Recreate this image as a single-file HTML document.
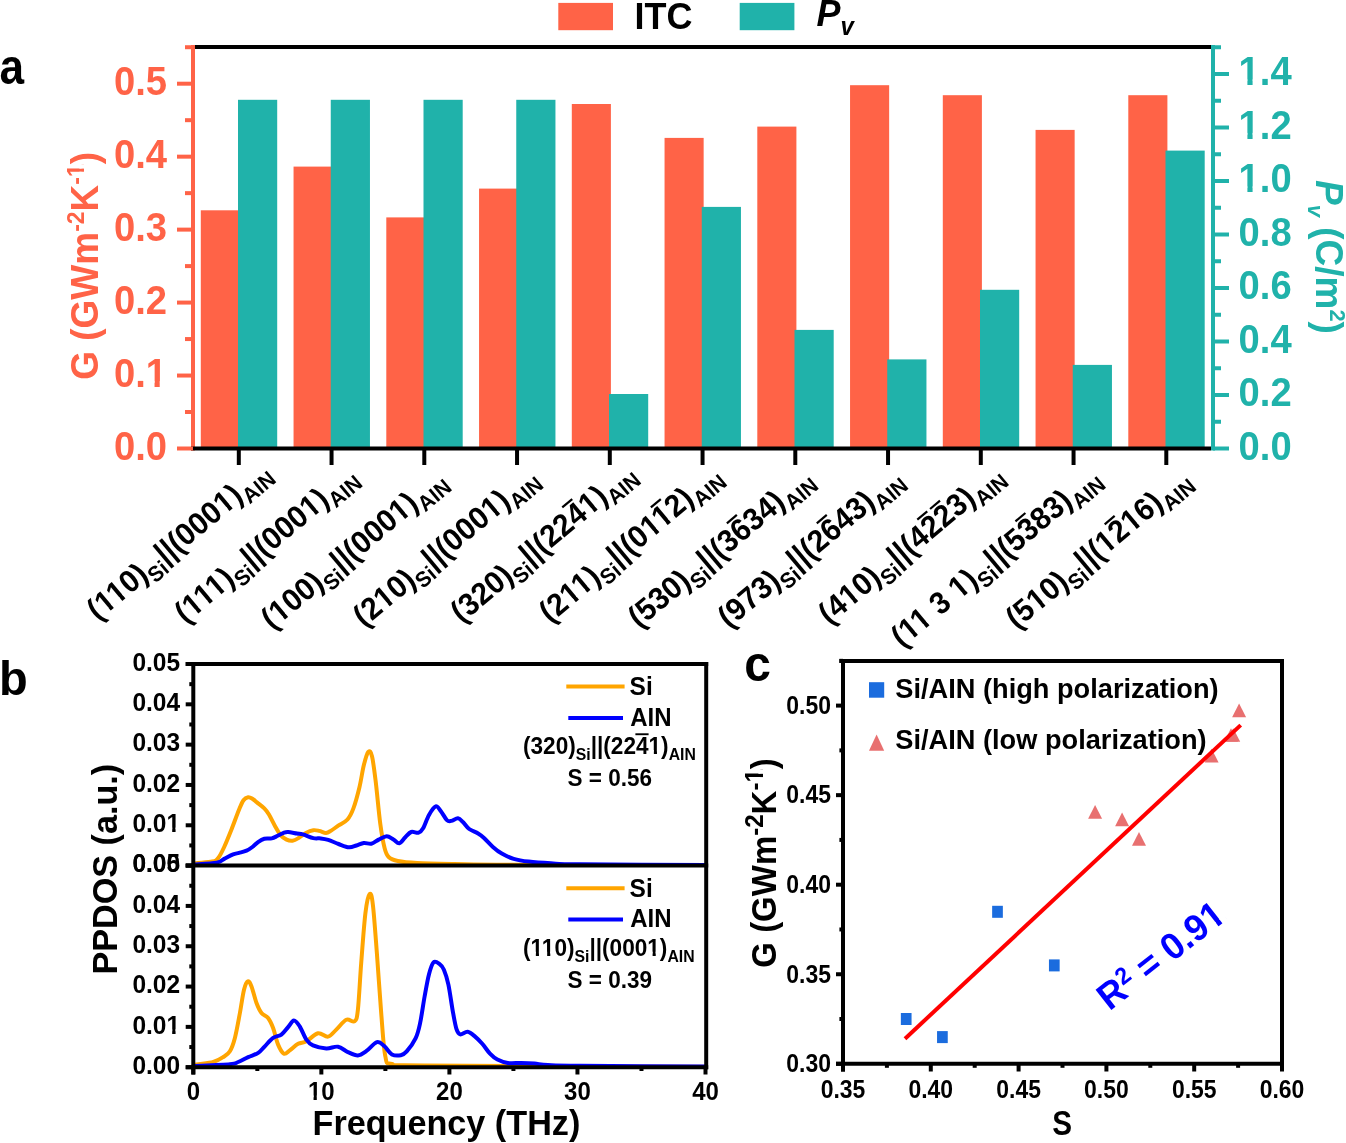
<!DOCTYPE html>
<html><head><meta charset="utf-8"><style>
html,body{margin:0;padding:0;background:#fff;overflow:hidden;}
svg{display:block;will-change:transform;}
</style></head><body>
<svg width="1346" height="1143" viewBox="0 0 1346 1143">
<rect width="1346" height="1143" fill="#fff"/>
<g transform="translate(-0.60,84.20) scale(0.8846,1)"><text id="t0" font-size="49.92" font-weight="bold" font-family="'Liberation Sans', sans-serif">a</text></g>
<rect x="558.3" y="2.9" width="54.7" height="27.3" fill="#FF6347"/>
<g transform="translate(634.60,28.80) scale(0.9615,1)"><text id="t1" font-size="37.44" font-weight="bold" font-family="'Liberation Sans', sans-serif">ITC</text></g>
<rect x="739.7" y="2.9" width="54.7" height="27.3" fill="#20B2AA"/>
<g transform="translate(816.50,25.70) scale(0.9615,1)"><text id="t2" font-size="37.44" font-weight="bold" font-style="italic" font-family="'Liberation Sans', sans-serif">P</text></g>
<g transform="translate(840.50,34.80) scale(0.9615,1)"><text id="t3" font-size="24.96" font-weight="bold" font-style="italic" font-family="'Liberation Sans', sans-serif">v</text></g>
<rect x="200.80" y="210.3" width="39.1" height="238.20" fill="#FF6347"/>
<rect x="238.00" y="99.8" width="39.2" height="348.70" fill="#20B2AA"/>
<line x1="238.80" y1="448.50" x2="238.80" y2="465.00" stroke="#000" stroke-width="4"/>
<rect x="293.55" y="166.6" width="39.1" height="281.90" fill="#FF6347"/>
<rect x="330.75" y="99.8" width="39.2" height="348.70" fill="#20B2AA"/>
<line x1="331.55" y1="448.50" x2="331.55" y2="465.00" stroke="#000" stroke-width="4"/>
<rect x="386.30" y="217.4" width="39.1" height="231.10" fill="#FF6347"/>
<rect x="423.50" y="99.8" width="39.2" height="348.70" fill="#20B2AA"/>
<line x1="424.30" y1="448.50" x2="424.30" y2="465.00" stroke="#000" stroke-width="4"/>
<rect x="479.05" y="188.6" width="39.1" height="259.90" fill="#FF6347"/>
<rect x="516.25" y="99.8" width="39.2" height="348.70" fill="#20B2AA"/>
<line x1="517.05" y1="448.50" x2="517.05" y2="465.00" stroke="#000" stroke-width="4"/>
<rect x="571.80" y="104" width="39.1" height="344.50" fill="#FF6347"/>
<rect x="609.00" y="394" width="39.2" height="54.50" fill="#20B2AA"/>
<line x1="609.80" y1="448.50" x2="609.80" y2="465.00" stroke="#000" stroke-width="4"/>
<rect x="664.55" y="137.9" width="39.1" height="310.60" fill="#FF6347"/>
<rect x="701.75" y="206.9" width="39.2" height="241.60" fill="#20B2AA"/>
<line x1="702.55" y1="448.50" x2="702.55" y2="465.00" stroke="#000" stroke-width="4"/>
<rect x="757.30" y="126.6" width="39.1" height="321.90" fill="#FF6347"/>
<rect x="794.50" y="329.9" width="39.2" height="118.60" fill="#20B2AA"/>
<line x1="795.30" y1="448.50" x2="795.30" y2="465.00" stroke="#000" stroke-width="4"/>
<rect x="850.05" y="85.2" width="39.1" height="363.30" fill="#FF6347"/>
<rect x="887.25" y="359.4" width="39.2" height="89.10" fill="#20B2AA"/>
<line x1="888.05" y1="448.50" x2="888.05" y2="465.00" stroke="#000" stroke-width="4"/>
<rect x="942.80" y="95.2" width="39.1" height="353.30" fill="#FF6347"/>
<rect x="980.00" y="289.8" width="39.2" height="158.70" fill="#20B2AA"/>
<line x1="980.80" y1="448.50" x2="980.80" y2="465.00" stroke="#000" stroke-width="4"/>
<rect x="1035.55" y="129.9" width="39.1" height="318.60" fill="#FF6347"/>
<rect x="1072.75" y="364.9" width="39.2" height="83.60" fill="#20B2AA"/>
<line x1="1073.55" y1="448.50" x2="1073.55" y2="465.00" stroke="#000" stroke-width="4"/>
<rect x="1128.30" y="95.2" width="39.1" height="353.30" fill="#FF6347"/>
<rect x="1165.50" y="150.6" width="39.2" height="297.90" fill="#20B2AA"/>
<line x1="1166.30" y1="448.50" x2="1166.30" y2="465.00" stroke="#000" stroke-width="4"/>
<line x1="193.00" y1="47.00" x2="1213.00" y2="47.00" stroke="#000" stroke-width="4"/>
<line x1="193.00" y1="45.00" x2="193.00" y2="450.50" stroke="#FF6347" stroke-width="4"/>
<line x1="191.00" y1="448.50" x2="1211.00" y2="448.50" stroke="#000" stroke-width="4"/>
<line x1="1213.00" y1="45.00" x2="1213.00" y2="450.50" stroke="#20B2AA" stroke-width="4"/>
<line x1="177.00" y1="448.50" x2="193.00" y2="448.50" stroke="#FF6347" stroke-width="4"/>
<g transform="translate(167.00,460.00) scale(0.9615,1)"><text id="t4" font-size="39.73" font-weight="bold" text-anchor="end" fill="#FF6347" font-family="'Liberation Sans', sans-serif">0.0</text></g>
<line x1="185.00" y1="412.02" x2="193.00" y2="412.02" stroke="#FF6347" stroke-width="4"/>
<line x1="177.00" y1="375.54" x2="193.00" y2="375.54" stroke="#FF6347" stroke-width="4"/>
<g transform="translate(167.00,387.04) scale(0.9615,1)"><text id="t5" font-size="39.73" font-weight="bold" text-anchor="end" fill="#FF6347" font-family="'Liberation Sans', sans-serif">0.1</text><rect x="-20.78" y="-5.90" width="7.82" height="7.40" fill="#fff"/><rect x="-7.58" y="-5.90" width="7.01" height="7.40" fill="#fff"/></g>
<line x1="185.00" y1="339.06" x2="193.00" y2="339.06" stroke="#FF6347" stroke-width="4"/>
<line x1="177.00" y1="302.58" x2="193.00" y2="302.58" stroke="#FF6347" stroke-width="4"/>
<g transform="translate(167.00,314.08) scale(0.9615,1)"><text id="t6" font-size="39.73" font-weight="bold" text-anchor="end" fill="#FF6347" font-family="'Liberation Sans', sans-serif">0.2</text></g>
<line x1="185.00" y1="266.10" x2="193.00" y2="266.10" stroke="#FF6347" stroke-width="4"/>
<line x1="177.00" y1="229.62" x2="193.00" y2="229.62" stroke="#FF6347" stroke-width="4"/>
<g transform="translate(167.00,241.12) scale(0.9615,1)"><text id="t7" font-size="39.73" font-weight="bold" text-anchor="end" fill="#FF6347" font-family="'Liberation Sans', sans-serif">0.3</text></g>
<line x1="185.00" y1="193.14" x2="193.00" y2="193.14" stroke="#FF6347" stroke-width="4"/>
<line x1="177.00" y1="156.66" x2="193.00" y2="156.66" stroke="#FF6347" stroke-width="4"/>
<g transform="translate(167.00,168.16) scale(0.9615,1)"><text id="t8" font-size="39.73" font-weight="bold" text-anchor="end" fill="#FF6347" font-family="'Liberation Sans', sans-serif">0.4</text></g>
<line x1="185.00" y1="120.18" x2="193.00" y2="120.18" stroke="#FF6347" stroke-width="4"/>
<line x1="177.00" y1="83.70" x2="193.00" y2="83.70" stroke="#FF6347" stroke-width="4"/>
<g transform="translate(167.00,95.20) scale(0.9615,1)"><text id="t9" font-size="39.73" font-weight="bold" text-anchor="end" fill="#FF6347" font-family="'Liberation Sans', sans-serif">0.5</text></g>
<line x1="185.00" y1="47.22" x2="193.00" y2="47.22" stroke="#FF6347" stroke-width="4"/>
<line x1="1213.00" y1="448.50" x2="1229.00" y2="448.50" stroke="#20B2AA" stroke-width="4"/>
<g transform="translate(1238.60,459.80) scale(0.9615,1)"><text id="t10" font-size="39.73" font-weight="bold" fill="#20B2AA" font-family="'Liberation Sans', sans-serif">0.0</text></g>
<line x1="1213.00" y1="421.75" x2="1221.00" y2="421.75" stroke="#20B2AA" stroke-width="4"/>
<line x1="1213.00" y1="395.00" x2="1229.00" y2="395.00" stroke="#20B2AA" stroke-width="4"/>
<g transform="translate(1238.60,406.30) scale(0.9615,1)"><text id="t11" font-size="39.73" font-weight="bold" fill="#20B2AA" font-family="'Liberation Sans', sans-serif">0.2</text></g>
<line x1="1213.00" y1="368.25" x2="1221.00" y2="368.25" stroke="#20B2AA" stroke-width="4"/>
<line x1="1213.00" y1="341.50" x2="1229.00" y2="341.50" stroke="#20B2AA" stroke-width="4"/>
<g transform="translate(1238.60,352.80) scale(0.9615,1)"><text id="t12" font-size="39.73" font-weight="bold" fill="#20B2AA" font-family="'Liberation Sans', sans-serif">0.4</text></g>
<line x1="1213.00" y1="314.75" x2="1221.00" y2="314.75" stroke="#20B2AA" stroke-width="4"/>
<line x1="1213.00" y1="288.00" x2="1229.00" y2="288.00" stroke="#20B2AA" stroke-width="4"/>
<g transform="translate(1238.60,299.30) scale(0.9615,1)"><text id="t13" font-size="39.73" font-weight="bold" fill="#20B2AA" font-family="'Liberation Sans', sans-serif">0.6</text></g>
<line x1="1213.00" y1="261.25" x2="1221.00" y2="261.25" stroke="#20B2AA" stroke-width="4"/>
<line x1="1213.00" y1="234.50" x2="1229.00" y2="234.50" stroke="#20B2AA" stroke-width="4"/>
<g transform="translate(1238.60,245.80) scale(0.9615,1)"><text id="t14" font-size="39.73" font-weight="bold" fill="#20B2AA" font-family="'Liberation Sans', sans-serif">0.8</text></g>
<line x1="1213.00" y1="207.75" x2="1221.00" y2="207.75" stroke="#20B2AA" stroke-width="4"/>
<line x1="1213.00" y1="181.00" x2="1229.00" y2="181.00" stroke="#20B2AA" stroke-width="4"/>
<g transform="translate(1238.60,192.30) scale(0.9615,1)"><text id="t15" font-size="39.73" font-weight="bold" fill="#20B2AA" font-family="'Liberation Sans', sans-serif">1.0</text><rect x="1.34" y="-5.90" width="7.82" height="7.40" fill="#fff"/><rect x="14.54" y="-5.90" width="7.01" height="7.40" fill="#fff"/></g>
<line x1="1213.00" y1="154.25" x2="1221.00" y2="154.25" stroke="#20B2AA" stroke-width="4"/>
<line x1="1213.00" y1="127.50" x2="1229.00" y2="127.50" stroke="#20B2AA" stroke-width="4"/>
<g transform="translate(1238.60,138.80) scale(0.9615,1)"><text id="t16" font-size="39.73" font-weight="bold" fill="#20B2AA" font-family="'Liberation Sans', sans-serif">1.2</text><rect x="1.34" y="-5.90" width="7.82" height="7.40" fill="#fff"/><rect x="14.54" y="-5.90" width="7.01" height="7.40" fill="#fff"/></g>
<line x1="1213.00" y1="100.75" x2="1221.00" y2="100.75" stroke="#20B2AA" stroke-width="4"/>
<line x1="1213.00" y1="74.00" x2="1229.00" y2="74.00" stroke="#20B2AA" stroke-width="4"/>
<g transform="translate(1238.60,85.30) scale(0.9615,1)"><text id="t17" font-size="39.73" font-weight="bold" fill="#20B2AA" font-family="'Liberation Sans', sans-serif">1.4</text><rect x="1.34" y="-5.90" width="7.82" height="7.40" fill="#fff"/><rect x="14.54" y="-5.90" width="7.01" height="7.40" fill="#fff"/></g>
<line x1="1213.00" y1="47.25" x2="1221.00" y2="47.25" stroke="#20B2AA" stroke-width="4"/>
<g transform="translate(97.70,379.80) rotate(-90) scale(0.9615,1)"><text id="t18" font-size="38.48" font-weight="bold" fill="#FF6347" font-family="'Liberation Sans', sans-serif">G (GWm<tspan font-size="23.92" dy="-14">-2</tspan><tspan dy="14">K</tspan><tspan font-size="23.92" dy="-14">-1</tspan><tspan dy="14">)</tspan></text><rect x="211.67" y="-18.32" width="4.73" height="5.82" fill="#fff"/><rect x="219.66" y="-18.32" width="4.24" height="5.82" fill="#fff"/></g>
<g transform="translate(1316.00,180.00) rotate(90) scale(0.9615,1)"><text id="t19" font-size="38.48" font-weight="bold" fill="#20B2AA" font-family="'Liberation Sans', sans-serif"><tspan font-style="italic">P</tspan><tspan font-size="22.88" font-style="italic" dy="8">v</tspan><tspan dy="-8"> (C/m</tspan><tspan font-size="22.88" dy="-14">2</tspan><tspan dy="14">)</tspan></text></g>
<g transform="translate(97.80,621.50) rotate(-40)"><g transform="translate(0.00,0.00) scale(0.9615,1)"><text id="t20" font-size="31.20" font-weight="bold" font-family="'Liberation Sans', sans-serif">(110)<tspan font-size="21.84" dy="8">Si</tspan><tspan dy="-8">||(0001)</tspan><tspan font-size="21.84" dy="8">AIN</tspan></text><rect x="11.45" y="-5.07" width="6.18" height="6.57" fill="#fff"/><rect x="21.88" y="-5.07" width="5.54" height="6.57" fill="#fff"/><rect x="27.06" y="-5.07" width="6.18" height="6.57" fill="#fff"/><rect x="37.49" y="-5.07" width="5.54" height="6.57" fill="#fff"/><rect x="172.64" y="-5.07" width="6.18" height="6.57" fill="#fff"/><rect x="183.08" y="-5.07" width="5.54" height="6.57" fill="#fff"/></g></g>
<g transform="translate(185.40,624.40) rotate(-40)"><g transform="translate(0.00,0.00) scale(0.9615,1)"><text id="t21" font-size="31.20" font-weight="bold" font-family="'Liberation Sans', sans-serif">(111)<tspan font-size="21.84" dy="8">Si</tspan><tspan dy="-8">||(0001)</tspan><tspan font-size="21.84" dy="8">AIN</tspan></text><rect x="11.45" y="-5.07" width="6.18" height="6.57" fill="#fff"/><rect x="21.88" y="-5.07" width="5.54" height="6.57" fill="#fff"/><rect x="27.06" y="-5.07" width="6.18" height="6.57" fill="#fff"/><rect x="37.49" y="-5.07" width="5.54" height="6.57" fill="#fff"/><rect x="42.68" y="-5.07" width="6.18" height="6.57" fill="#fff"/><rect x="53.12" y="-5.07" width="5.54" height="6.57" fill="#fff"/><rect x="170.92" y="-5.07" width="6.18" height="6.57" fill="#fff"/><rect x="181.36" y="-5.07" width="5.54" height="6.57" fill="#fff"/></g></g>
<g transform="translate(272.10,630.50) rotate(-40)"><g transform="translate(0.00,0.00) scale(0.9615,1)"><text id="t22" font-size="31.20" font-weight="bold" font-family="'Liberation Sans', sans-serif">(100)<tspan font-size="21.84" dy="8">Si</tspan><tspan dy="-8">||(0001)</tspan><tspan font-size="21.84" dy="8">AIN</tspan></text><rect x="11.45" y="-5.07" width="6.18" height="6.57" fill="#fff"/><rect x="21.88" y="-5.07" width="5.54" height="6.57" fill="#fff"/><rect x="174.36" y="-5.07" width="6.18" height="6.57" fill="#fff"/><rect x="184.80" y="-5.07" width="5.54" height="6.57" fill="#fff"/></g></g>
<g transform="translate(364.00,628.00) rotate(-40)"><g transform="translate(0.00,0.00) scale(0.9615,1)"><text id="t23" font-size="31.20" font-weight="bold" font-family="'Liberation Sans', sans-serif">(210)<tspan font-size="21.84" dy="8">Si</tspan><tspan dy="-8">||(0001)</tspan><tspan font-size="21.84" dy="8">AIN</tspan></text><rect x="28.78" y="-5.07" width="6.18" height="6.57" fill="#fff"/><rect x="39.21" y="-5.07" width="5.54" height="6.57" fill="#fff"/><rect x="174.36" y="-5.07" width="6.18" height="6.57" fill="#fff"/><rect x="184.80" y="-5.07" width="5.54" height="6.57" fill="#fff"/></g></g>
<g transform="translate(461.50,623.80) rotate(-40)"><g transform="translate(0.00,0.00) scale(0.9615,1)"><text id="t24" font-size="31.20" font-weight="bold" font-family="'Liberation Sans', sans-serif">(320)<tspan font-size="21.84" dy="8">Si</tspan><tspan dy="-8">||(2241)</tspan><tspan font-size="21.84" dy="8">AIN</tspan></text><rect x="174.36" y="-5.07" width="6.18" height="6.57" fill="#fff"/><rect x="184.80" y="-5.07" width="5.54" height="6.57" fill="#fff"/></g><rect x="152.01" y="-25.50" width="13.00" height="2.2" fill="#000"/></g>
<g transform="translate(550.10,623.80) rotate(-40)"><g transform="translate(0.00,0.00) scale(0.9615,1)"><text id="t25" font-size="31.20" font-weight="bold" font-family="'Liberation Sans', sans-serif">(211)<tspan font-size="21.84" dy="8">Si</tspan><tspan dy="-8">||(0112)</tspan><tspan font-size="21.84" dy="8">AIN</tspan></text><rect x="28.78" y="-5.07" width="6.18" height="6.57" fill="#fff"/><rect x="39.21" y="-5.07" width="5.54" height="6.57" fill="#fff"/><rect x="44.40" y="-5.07" width="6.18" height="6.57" fill="#fff"/><rect x="54.84" y="-5.07" width="5.54" height="6.57" fill="#fff"/><rect x="137.95" y="-5.07" width="6.18" height="6.57" fill="#fff"/><rect x="148.39" y="-5.07" width="5.54" height="6.57" fill="#fff"/><rect x="153.58" y="-5.07" width="6.18" height="6.57" fill="#fff"/><rect x="164.01" y="-5.07" width="5.54" height="6.57" fill="#fff"/></g><rect x="152.01" y="-25.50" width="13.00" height="2.2" fill="#000"/></g>
<g transform="translate(638.90,629.00) rotate(-40)"><g transform="translate(0.00,0.00) scale(0.9615,1)"><text id="t26" font-size="31.20" font-weight="bold" font-family="'Liberation Sans', sans-serif">(530)<tspan font-size="21.84" dy="8">Si</tspan><tspan dy="-8">||(3634)</tspan><tspan font-size="21.84" dy="8">AIN</tspan></text></g><rect x="135.34" y="-25.50" width="13.00" height="2.2" fill="#000"/></g>
<g transform="translate(728.80,629.00) rotate(-40)"><g transform="translate(0.00,0.00) scale(0.9615,1)"><text id="t27" font-size="31.20" font-weight="bold" font-family="'Liberation Sans', sans-serif">(973)<tspan font-size="21.84" dy="8">Si</tspan><tspan dy="-8">||(2643)</tspan><tspan font-size="21.84" dy="8">AIN</tspan></text></g><rect x="135.34" y="-25.50" width="13.00" height="2.2" fill="#000"/></g>
<g transform="translate(829.30,625.40) rotate(-40)"><g transform="translate(0.00,0.00) scale(0.9615,1)"><text id="t28" font-size="31.20" font-weight="bold" font-family="'Liberation Sans', sans-serif">(410)<tspan font-size="21.84" dy="8">Si</tspan><tspan dy="-8">||(4223)</tspan><tspan font-size="21.84" dy="8">AIN</tspan></text><rect x="28.78" y="-5.07" width="6.18" height="6.57" fill="#fff"/><rect x="39.21" y="-5.07" width="5.54" height="6.57" fill="#fff"/></g><rect x="135.34" y="-25.50" width="13.00" height="2.2" fill="#000"/><rect x="152.01" y="-25.50" width="13.00" height="2.2" fill="#000"/></g>
<g transform="translate(901.90,648.50) rotate(-40)"><g transform="translate(0.00,0.00) scale(0.9615,1)"><text id="t29" font-size="31.20" font-weight="bold" font-family="'Liberation Sans', sans-serif">(11 3 1)<tspan font-size="21.84" dy="8">Si</tspan><tspan dy="-8">||(5383)</tspan><tspan font-size="21.84" dy="8">AIN</tspan></text><rect x="11.45" y="-5.07" width="6.18" height="6.57" fill="#fff"/><rect x="21.88" y="-5.07" width="5.54" height="6.57" fill="#fff"/><rect x="27.06" y="-5.07" width="6.18" height="6.57" fill="#fff"/><rect x="37.49" y="-5.07" width="5.54" height="6.57" fill="#fff"/><rect x="79.08" y="-5.07" width="6.18" height="6.57" fill="#fff"/><rect x="89.52" y="-5.07" width="5.54" height="6.57" fill="#fff"/></g><rect x="168.70" y="-25.50" width="13.00" height="2.2" fill="#000"/></g>
<g transform="translate(1016.70,630.00) rotate(-40)"><g transform="translate(0.00,0.00) scale(0.9615,1)"><text id="t30" font-size="31.20" font-weight="bold" font-family="'Liberation Sans', sans-serif">(510)<tspan font-size="21.84" dy="8">Si</tspan><tspan dy="-8">||(1216)</tspan><tspan font-size="21.84" dy="8">AIN</tspan></text><rect x="28.78" y="-5.07" width="6.18" height="6.57" fill="#fff"/><rect x="39.21" y="-5.07" width="5.54" height="6.57" fill="#fff"/><rect x="122.32" y="-5.07" width="6.18" height="6.57" fill="#fff"/><rect x="132.76" y="-5.07" width="5.54" height="6.57" fill="#fff"/><rect x="157.02" y="-5.07" width="6.18" height="6.57" fill="#fff"/><rect x="167.46" y="-5.07" width="5.54" height="6.57" fill="#fff"/></g><rect x="135.34" y="-25.50" width="13.00" height="2.2" fill="#000"/></g>
<g transform="translate(-1.00,694.70) scale(0.9615,1)"><text id="t31" font-size="48.88" font-weight="bold" font-family="'Liberation Sans', sans-serif">b</text></g>
<path d="M193.40,864.50 C193.82,864.30 192.75,863.80 195.90,863.30 C199.05,862.80 208.58,862.37 212.30,861.50 C216.02,860.63 216.22,860.52 218.20,858.10 C220.18,855.68 221.97,851.82 224.20,847.00 C226.43,842.18 229.13,835.40 231.60,829.20 C234.07,823.00 237.02,814.63 239.00,809.80 C240.98,804.97 241.97,802.30 243.50,800.20 C245.03,798.10 246.72,797.45 248.20,797.20 C249.68,796.95 250.95,797.83 252.40,798.70 C253.85,799.57 254.92,800.78 256.90,802.40 C258.88,804.02 262.32,806.42 264.30,808.40 C266.28,810.38 267.07,811.47 268.80,814.30 C270.53,817.13 272.73,821.93 274.70,825.40 C276.67,828.87 278.62,832.73 280.60,835.10 C282.58,837.47 284.62,838.67 286.60,839.60 C288.58,840.53 290.52,840.95 292.50,840.70 C294.48,840.45 296.27,839.40 298.50,838.10 C300.73,836.80 303.43,834.22 305.90,832.90 C308.37,831.58 311.07,830.53 313.30,830.20 C315.53,829.87 317.18,830.45 319.30,830.90 C321.42,831.35 324.02,832.95 326.00,832.90 C327.98,832.85 329.10,831.85 331.20,830.60 C333.30,829.35 335.88,827.25 338.60,825.40 C341.32,823.55 345.03,822.33 347.50,819.50 C349.97,816.67 351.42,813.73 353.40,808.40 C355.38,803.07 357.67,794.68 359.40,787.50 C361.13,780.32 362.32,771.23 363.80,765.30 C365.28,759.37 366.93,753.40 368.30,751.90 C369.67,750.40 370.77,751.35 372.00,756.30 C373.23,761.25 374.33,770.45 375.70,781.60 C377.07,792.75 378.70,812.05 380.20,823.20 C381.70,834.35 383.25,842.82 384.70,848.50 C386.15,854.18 386.72,855.22 388.90,857.30 C391.08,859.38 393.10,860.05 397.80,861.00 C402.50,861.95 407.68,862.50 417.10,863.00 C426.52,863.50 438.20,863.70 454.30,864.00 C470.40,864.30 471.75,864.63 513.70,864.80 C555.65,864.97 673.95,864.97 706.00,865.00" fill="none" stroke="#FFA500" stroke-width="4" stroke-linejoin="round" stroke-linecap="round"/>
<path d="M193.40,864.50 C197.28,864.18 211.57,863.53 216.70,862.60 C221.83,861.67 221.47,860.27 224.20,858.90 C226.93,857.53 230.63,855.40 233.10,854.40 C235.57,853.40 236.77,853.52 239.00,852.90 C241.23,852.28 244.27,851.68 246.50,850.70 C248.73,849.72 250.42,848.48 252.40,847.00 C254.38,845.52 256.42,843.17 258.40,841.80 C260.38,840.43 262.08,839.37 264.30,838.80 C266.52,838.23 269.47,838.90 271.70,838.40 C273.93,837.90 275.72,836.72 277.70,835.80 C279.68,834.88 281.87,833.52 283.60,832.90 C285.33,832.28 285.87,831.98 288.10,832.10 C290.33,832.22 294.53,833.22 297.00,833.60 C299.47,833.98 300.18,833.65 302.90,834.40 C305.62,835.15 310.32,837.43 313.30,838.10 C316.28,838.77 318.32,838.10 320.80,838.40 C323.28,838.70 325.23,838.97 328.20,839.90 C331.17,840.83 335.13,842.77 338.60,844.00 C342.07,845.23 346.03,847.05 349.00,847.30 C351.97,847.55 353.93,846.22 356.40,845.50 C358.87,844.78 361.32,843.30 363.80,843.00 C366.28,842.70 368.82,844.27 371.30,843.70 C373.78,843.13 376.13,840.85 378.70,839.60 C381.27,838.35 384.25,836.23 386.70,836.20 C389.15,836.17 391.30,838.23 393.40,839.40 C395.50,840.57 397.32,843.57 399.30,843.20 C401.28,842.83 403.32,839.07 405.30,837.20 C407.28,835.33 408.98,832.75 411.20,832.00 C413.42,831.25 416.62,833.32 418.60,832.70 C420.58,832.08 421.37,831.27 423.10,828.30 C424.83,825.33 426.90,818.55 429.00,814.90 C431.10,811.25 433.72,807.02 435.70,806.40 C437.68,805.78 439.03,808.92 440.90,811.20 C442.77,813.48 445.17,818.48 446.90,820.10 C448.63,821.72 449.45,821.20 451.30,820.90 C453.15,820.60 456.02,818.07 458.00,818.30 C459.98,818.53 461.33,820.52 463.20,822.30 C465.07,824.08 466.72,827.13 469.20,829.00 C471.68,830.87 475.63,832.00 478.10,833.50 C480.57,835.00 481.53,835.77 484.00,838.00 C486.47,840.23 489.93,844.30 492.90,846.90 C495.87,849.50 498.33,851.62 501.80,853.60 C505.27,855.58 509.23,857.47 513.70,858.80 C518.17,860.13 522.40,860.85 528.60,861.60 C534.80,862.35 542.33,862.85 550.90,863.30 C559.47,863.75 554.15,864.03 580.00,864.30 C605.85,864.57 685.00,864.80 706.00,864.90" fill="none" stroke="#0000FF" stroke-width="4" stroke-linejoin="round" stroke-linecap="round"/>
<path d="M193.40,1066.00 C193.93,1065.75 193.28,1065.17 196.60,1064.50 C199.92,1063.83 208.85,1063.25 213.30,1062.00 C217.75,1060.75 220.53,1058.80 223.30,1057.00 C226.07,1055.20 227.97,1054.38 229.90,1051.20 C231.83,1048.02 233.23,1044.27 234.90,1037.90 C236.57,1031.53 238.38,1021.03 239.90,1013.00 C241.42,1004.97 242.67,994.97 244.00,989.70 C245.33,984.43 246.65,981.95 247.90,981.40 C249.15,980.85 250.07,982.80 251.50,986.40 C252.93,990.00 254.83,998.57 256.50,1003.00 C258.17,1007.43 259.57,1010.50 261.50,1013.00 C263.43,1015.50 266.17,1015.50 268.10,1018.00 C270.03,1020.50 271.43,1023.57 273.10,1028.00 C274.77,1032.43 276.30,1040.32 278.10,1044.60 C279.90,1048.88 281.95,1052.73 283.90,1053.70 C285.85,1054.67 287.43,1052.05 289.80,1050.40 C292.17,1048.75 295.33,1045.32 298.10,1043.80 C300.87,1042.28 303.08,1043.05 306.40,1041.30 C309.72,1039.55 314.40,1034.08 318.00,1033.30 C321.60,1032.52 324.95,1037.22 328.00,1036.60 C331.05,1035.98 333.25,1032.42 336.30,1029.60 C339.35,1026.78 343.25,1021.08 346.30,1019.70 C349.35,1018.32 352.67,1022.97 354.60,1021.30 C356.53,1019.63 356.80,1019.40 357.90,1009.70 C359.00,1000.00 359.95,979.18 361.20,963.10 C362.45,947.02 364.00,924.70 365.40,913.20 C366.80,901.70 368.35,895.48 369.60,894.10 C370.85,892.72 371.67,894.78 372.90,904.90 C374.13,915.02 375.62,936.78 377.00,954.80 C378.38,972.82 379.82,996.10 381.20,1013.00 C382.58,1029.90 383.52,1047.70 385.30,1056.20 C387.08,1064.70 385.35,1062.45 391.90,1064.00 C398.45,1065.55 372.25,1065.03 424.60,1065.50 C476.95,1065.97 659.10,1066.58 706.00,1066.80" fill="none" stroke="#FFA500" stroke-width="4" stroke-linejoin="round" stroke-linecap="round"/>
<path d="M193.40,1066.00 C199.48,1065.70 222.43,1064.87 229.90,1064.20 C237.37,1063.53 235.15,1063.18 238.20,1062.00 C241.25,1060.82 244.87,1058.62 248.20,1057.10 C251.53,1055.58 255.43,1054.70 258.20,1052.90 C260.97,1051.10 262.32,1048.80 264.80,1046.30 C267.28,1043.80 270.33,1039.85 273.10,1037.90 C275.87,1035.95 278.90,1036.40 281.40,1034.60 C283.90,1032.80 286.02,1029.45 288.10,1027.10 C290.18,1024.75 291.97,1020.63 293.90,1020.50 C295.83,1020.37 297.62,1023.12 299.70,1026.30 C301.78,1029.48 304.18,1036.42 306.40,1039.60 C308.62,1042.78 309.68,1043.93 313.00,1045.40 C316.32,1046.87 322.13,1048.18 326.30,1048.40 C330.47,1048.62 334.40,1046.08 338.00,1046.70 C341.60,1047.32 344.58,1050.65 347.90,1052.10 C351.22,1053.55 354.85,1055.55 357.90,1055.40 C360.95,1055.25 363.02,1053.42 366.20,1051.20 C369.38,1048.98 373.95,1042.92 377.00,1042.10 C380.05,1041.28 382.02,1044.25 384.50,1046.30 C386.98,1048.35 389.18,1052.92 391.90,1054.40 C394.62,1055.88 398.33,1055.70 400.80,1055.20 C403.27,1054.70 404.22,1054.25 406.70,1051.40 C409.18,1048.55 413.47,1042.80 415.70,1038.10 C417.93,1033.40 418.62,1030.13 420.10,1023.20 C421.58,1016.27 423.12,1004.67 424.60,996.50 C426.08,988.33 427.52,979.90 429.00,974.20 C430.48,968.50 431.77,964.03 433.50,962.30 C435.23,960.57 437.67,962.57 439.40,963.80 C441.13,965.03 442.40,966.23 443.90,969.70 C445.40,973.17 446.92,977.67 448.40,984.60 C449.88,991.53 451.45,1003.87 452.80,1011.30 C454.15,1018.73 455.27,1025.35 456.50,1029.20 C457.73,1033.05 458.33,1033.97 460.20,1034.40 C462.07,1034.83 465.22,1031.43 467.70,1031.80 C470.18,1032.17 472.63,1034.57 475.10,1036.60 C477.57,1038.63 480.02,1041.15 482.50,1044.00 C484.98,1046.85 487.52,1051.10 490.00,1053.70 C492.48,1056.30 494.43,1058.05 497.40,1059.60 C500.37,1061.15 503.83,1062.43 507.80,1063.00 C511.77,1063.57 516.75,1062.90 521.20,1063.00 C525.65,1063.10 530.05,1063.27 534.50,1063.60 C538.95,1063.93 540.32,1064.63 547.90,1065.00 C555.48,1065.37 553.65,1065.55 580.00,1065.80 C606.35,1066.05 685.00,1066.38 706.00,1066.50" fill="none" stroke="#0000FF" stroke-width="4" stroke-linejoin="round" stroke-linecap="round"/>
<line x1="185.70" y1="664.00" x2="708.20" y2="664.00" stroke="#000" stroke-width="4"/>
<line x1="185.70" y1="865.60" x2="708.20" y2="865.60" stroke="#000" stroke-width="4"/>
<line x1="185.70" y1="1067.20" x2="708.20" y2="1067.20" stroke="#000" stroke-width="4"/>
<line x1="193.30" y1="662.00" x2="193.30" y2="1074.50" stroke="#000" stroke-width="4"/>
<line x1="706.20" y1="662.00" x2="706.20" y2="1069.20" stroke="#000" stroke-width="4"/>
<line x1="185.70" y1="865.60" x2="193.30" y2="865.60" stroke="#000" stroke-width="4"/>
<g transform="translate(180.10,872.40) scale(0.9615,1)"><text id="t32" font-size="25.48" font-weight="bold" text-anchor="end" font-family="'Liberation Sans', sans-serif">0.00</text></g>
<line x1="189.30" y1="845.44" x2="193.30" y2="845.44" stroke="#000" stroke-width="4"/>
<line x1="185.70" y1="825.28" x2="193.30" y2="825.28" stroke="#000" stroke-width="4"/>
<g transform="translate(180.10,832.08) scale(0.9615,1)"><text id="t33" font-size="25.48" font-weight="bold" text-anchor="end" font-family="'Liberation Sans', sans-serif">0.01</text><rect x="-13.32" y="-4.51" width="5.09" height="6.01" fill="#fff"/><rect x="-4.72" y="-4.51" width="4.57" height="6.01" fill="#fff"/></g>
<line x1="189.30" y1="805.12" x2="193.30" y2="805.12" stroke="#000" stroke-width="4"/>
<line x1="185.70" y1="784.96" x2="193.30" y2="784.96" stroke="#000" stroke-width="4"/>
<g transform="translate(180.10,791.76) scale(0.9615,1)"><text id="t34" font-size="25.48" font-weight="bold" text-anchor="end" font-family="'Liberation Sans', sans-serif">0.02</text></g>
<line x1="189.30" y1="764.80" x2="193.30" y2="764.80" stroke="#000" stroke-width="4"/>
<line x1="185.70" y1="744.64" x2="193.30" y2="744.64" stroke="#000" stroke-width="4"/>
<g transform="translate(180.10,751.44) scale(0.9615,1)"><text id="t35" font-size="25.48" font-weight="bold" text-anchor="end" font-family="'Liberation Sans', sans-serif">0.03</text></g>
<line x1="189.30" y1="724.48" x2="193.30" y2="724.48" stroke="#000" stroke-width="4"/>
<line x1="185.70" y1="704.32" x2="193.30" y2="704.32" stroke="#000" stroke-width="4"/>
<g transform="translate(180.10,711.12) scale(0.9615,1)"><text id="t36" font-size="25.48" font-weight="bold" text-anchor="end" font-family="'Liberation Sans', sans-serif">0.04</text></g>
<line x1="189.30" y1="684.16" x2="193.30" y2="684.16" stroke="#000" stroke-width="4"/>
<line x1="185.70" y1="664.00" x2="193.30" y2="664.00" stroke="#000" stroke-width="4"/>
<g transform="translate(180.10,670.80) scale(0.9615,1)"><text id="t37" font-size="25.48" font-weight="bold" text-anchor="end" font-family="'Liberation Sans', sans-serif">0.05</text></g>
<line x1="185.70" y1="1067.20" x2="193.30" y2="1067.20" stroke="#000" stroke-width="4"/>
<g transform="translate(180.10,1074.00) scale(0.9615,1)"><text id="t38" font-size="25.48" font-weight="bold" text-anchor="end" font-family="'Liberation Sans', sans-serif">0.00</text></g>
<line x1="189.30" y1="1047.04" x2="193.30" y2="1047.04" stroke="#000" stroke-width="4"/>
<line x1="185.70" y1="1026.88" x2="193.30" y2="1026.88" stroke="#000" stroke-width="4"/>
<g transform="translate(180.10,1033.68) scale(0.9615,1)"><text id="t39" font-size="25.48" font-weight="bold" text-anchor="end" font-family="'Liberation Sans', sans-serif">0.01</text><rect x="-13.32" y="-4.51" width="5.09" height="6.01" fill="#fff"/><rect x="-4.72" y="-4.51" width="4.57" height="6.01" fill="#fff"/></g>
<line x1="189.30" y1="1006.72" x2="193.30" y2="1006.72" stroke="#000" stroke-width="4"/>
<line x1="185.70" y1="986.56" x2="193.30" y2="986.56" stroke="#000" stroke-width="4"/>
<g transform="translate(180.10,993.36) scale(0.9615,1)"><text id="t40" font-size="25.48" font-weight="bold" text-anchor="end" font-family="'Liberation Sans', sans-serif">0.02</text></g>
<line x1="189.30" y1="966.40" x2="193.30" y2="966.40" stroke="#000" stroke-width="4"/>
<line x1="185.70" y1="946.24" x2="193.30" y2="946.24" stroke="#000" stroke-width="4"/>
<g transform="translate(180.10,953.04) scale(0.9615,1)"><text id="t41" font-size="25.48" font-weight="bold" text-anchor="end" font-family="'Liberation Sans', sans-serif">0.03</text></g>
<line x1="189.30" y1="926.08" x2="193.30" y2="926.08" stroke="#000" stroke-width="4"/>
<line x1="185.70" y1="905.92" x2="193.30" y2="905.92" stroke="#000" stroke-width="4"/>
<g transform="translate(180.10,912.72) scale(0.9615,1)"><text id="t42" font-size="25.48" font-weight="bold" text-anchor="end" font-family="'Liberation Sans', sans-serif">0.04</text></g>
<line x1="189.30" y1="885.76" x2="193.30" y2="885.76" stroke="#000" stroke-width="4"/>
<line x1="185.70" y1="865.60" x2="193.30" y2="865.60" stroke="#000" stroke-width="4"/>
<g transform="translate(180.10,872.40) scale(0.9615,1)"><text id="t43" font-size="25.48" font-weight="bold" text-anchor="end" font-family="'Liberation Sans', sans-serif">0.05</text></g>
<line x1="193.30" y1="1067.20" x2="193.30" y2="1074.50" stroke="#000" stroke-width="4"/>
<g transform="translate(193.30,1099.80) scale(0.9615,1)"><text id="t44" font-size="24.96" font-weight="bold" text-anchor="middle" font-family="'Liberation Sans', sans-serif">0</text></g>
<line x1="257.33" y1="1067.20" x2="257.33" y2="1071.00" stroke="#000" stroke-width="4"/>
<line x1="321.35" y1="1067.20" x2="321.35" y2="1074.50" stroke="#000" stroke-width="4"/>
<g transform="translate(321.35,1099.80) scale(0.9615,1)"><text id="t45" font-size="24.96" font-weight="bold" text-anchor="middle" font-family="'Liberation Sans', sans-serif">10</text><rect x="-13.03" y="-4.41" width="4.91" height="5.91" fill="#fff"/><rect x="-4.74" y="-4.41" width="4.40" height="5.91" fill="#fff"/></g>
<line x1="385.38" y1="1067.20" x2="385.38" y2="1071.00" stroke="#000" stroke-width="4"/>
<line x1="449.40" y1="1067.20" x2="449.40" y2="1074.50" stroke="#000" stroke-width="4"/>
<g transform="translate(449.40,1099.80) scale(0.9615,1)"><text id="t46" font-size="24.96" font-weight="bold" text-anchor="middle" font-family="'Liberation Sans', sans-serif">20</text></g>
<line x1="513.42" y1="1067.20" x2="513.42" y2="1071.00" stroke="#000" stroke-width="4"/>
<line x1="577.45" y1="1067.20" x2="577.45" y2="1074.50" stroke="#000" stroke-width="4"/>
<g transform="translate(577.45,1099.80) scale(0.9615,1)"><text id="t47" font-size="24.96" font-weight="bold" text-anchor="middle" font-family="'Liberation Sans', sans-serif">30</text></g>
<line x1="641.48" y1="1067.20" x2="641.48" y2="1071.00" stroke="#000" stroke-width="4"/>
<line x1="705.50" y1="1067.20" x2="705.50" y2="1074.50" stroke="#000" stroke-width="4"/>
<g transform="translate(705.50,1099.80) scale(0.9615,1)"><text id="t48" font-size="24.96" font-weight="bold" text-anchor="middle" font-family="'Liberation Sans', sans-serif">40</text></g>
<g transform="translate(446.40,1134.90) scale(0.9615,1)"><text id="t49" font-size="35.57" font-weight="bold" text-anchor="middle" font-family="'Liberation Sans', sans-serif">Frequency (THz)</text></g>
<g transform="translate(116.90,974.60) rotate(-90) scale(0.9615,1)"><text id="t50" font-size="35.57" font-weight="bold" font-family="'Liberation Sans', sans-serif">PPDOS (a.u.)</text></g>
<line x1="566.30" y1="686.60" x2="624.60" y2="686.60" stroke="#FFA500" stroke-width="4"/>
<g transform="translate(629.60,695.20) scale(0.9615,1)"><text id="t51" font-size="25.48" font-weight="bold" font-family="'Liberation Sans', sans-serif">Si</text></g>
<line x1="568.30" y1="718.00" x2="623.00" y2="718.00" stroke="#0000FF" stroke-width="4"/>
<g transform="translate(630.20,725.80) scale(0.9615,1)"><text id="t52" font-size="24.96" font-weight="bold" font-family="'Liberation Sans', sans-serif">AIN</text></g>
<g transform="translate(523.00,754.40) scale(0.9615,1)"><text id="t53" font-size="23.50" font-weight="bold" font-family="'Liberation Sans', sans-serif">(320)<tspan font-size="16.43" dy="6">Si</tspan><tspan dy="-6">||(2241)</tspan><tspan font-size="16.43" dy="6">AIN</tspan></text><rect x="131.36" y="-4.32" width="4.73" height="5.82" fill="#fff"/><rect x="139.34" y="-4.32" width="4.24" height="5.82" fill="#fff"/></g>
<rect x="635.39" y="733.3" width="13.2" height="1.9" fill="#000"/>
<g transform="translate(609.80,786.20) scale(0.9615,1)"><text id="t54" font-size="23.40" font-weight="bold" text-anchor="middle" font-family="'Liberation Sans', sans-serif">S = 0.56</text></g>
<line x1="566.30" y1="888.20" x2="624.60" y2="888.20" stroke="#FFA500" stroke-width="4"/>
<g transform="translate(629.60,896.80) scale(0.9615,1)"><text id="t55" font-size="25.48" font-weight="bold" font-family="'Liberation Sans', sans-serif">Si</text></g>
<line x1="568.30" y1="919.60" x2="623.00" y2="919.60" stroke="#0000FF" stroke-width="4"/>
<g transform="translate(630.20,927.40) scale(0.9615,1)"><text id="t56" font-size="24.96" font-weight="bold" font-family="'Liberation Sans', sans-serif">AIN</text></g>
<g transform="translate(523.00,956.00) scale(0.9615,1)"><text id="t57" font-size="23.50" font-weight="bold" font-family="'Liberation Sans', sans-serif">(110)<tspan font-size="16.43" dy="6">Si</tspan><tspan dy="-6">||(0001)</tspan><tspan font-size="16.43" dy="6">AIN</tspan></text><rect x="8.63" y="-4.32" width="4.73" height="5.82" fill="#fff"/><rect x="16.61" y="-4.32" width="4.24" height="5.82" fill="#fff"/><rect x="20.40" y="-4.32" width="4.73" height="5.82" fill="#fff"/><rect x="28.38" y="-4.32" width="4.24" height="5.82" fill="#fff"/><rect x="130.06" y="-4.32" width="4.73" height="5.82" fill="#fff"/><rect x="138.04" y="-4.32" width="4.24" height="5.82" fill="#fff"/></g>
<g transform="translate(609.80,987.80) scale(0.9615,1)"><text id="t58" font-size="23.40" font-weight="bold" text-anchor="middle" font-family="'Liberation Sans', sans-serif">S = 0.39</text></g>
<g transform="translate(744.30,681.20) scale(0.9615,1)"><text id="t59" font-size="49.92" font-weight="bold" font-family="'Liberation Sans', sans-serif">c</text></g>
<rect x="869" y="682.2" width="15.2" height="15.5" fill="#1B6CDE"/>
<g transform="translate(895.30,698.20) scale(0.9615,1)"><text id="t60" font-size="28.29" font-weight="bold" font-family="'Liberation Sans', sans-serif">Si/AIN (high polarization)</text></g>
<polygon points="869,750.8 884.2,750.8 876.6,734.5" fill="#E87070"/>
<g transform="translate(895.30,749.00) scale(0.9615,1)"><text id="t61" font-size="28.29" font-weight="bold" font-family="'Liberation Sans', sans-serif">Si/AIN (low polarization)</text></g>
<rect x="900.85" y="1013.00" width="10.7" height="12" fill="#1B6CDE"/>
<rect x="937.05" y="1031.10" width="10.7" height="12" fill="#1B6CDE"/>
<rect x="992.15" y="905.80" width="10.7" height="12" fill="#1B6CDE"/>
<rect x="1048.95" y="959.40" width="10.7" height="12" fill="#1B6CDE"/>
<polygon points="1232.10,717.15 1246.10,717.15 1239.10,703.45" fill="#E87070"/>
<polygon points="1224.00,741.85 1238.00,741.85 1231.00,728.15" fill="#E87070"/>
<polygon points="1226.20,741.85 1240.20,741.85 1233.20,728.15" fill="#E87070"/>
<polygon points="1204.60,762.55 1218.60,762.55 1211.60,748.85" fill="#E87070"/>
<polygon points="1088.10,818.65 1102.10,818.65 1095.10,804.95" fill="#E87070"/>
<polygon points="1115.10,826.15 1129.10,826.15 1122.10,812.45" fill="#E87070"/>
<polygon points="1132.00,845.75 1146.00,845.75 1139.00,832.05" fill="#E87070"/>
<line x1="905.00" y1="1038.70" x2="1240.70" y2="725.10" stroke="#FF0000" stroke-width="4"/>
<line x1="839.40" y1="661.00" x2="1284.00" y2="661.00" stroke="#000" stroke-width="4"/>
<line x1="836.00" y1="1063.80" x2="1284.00" y2="1063.80" stroke="#000" stroke-width="4"/>
<line x1="843.00" y1="659.00" x2="843.00" y2="1071.50" stroke="#000" stroke-width="4"/>
<line x1="1282.00" y1="659.00" x2="1282.00" y2="1065.80" stroke="#000" stroke-width="4"/>
<line x1="836.00" y1="1063.80" x2="843.00" y2="1063.80" stroke="#000" stroke-width="4"/>
<g transform="translate(831.00,1072.10) scale(0.8654,1)"><text id="t62" font-size="26.52" font-weight="bold" text-anchor="end" font-family="'Liberation Sans', sans-serif">0.30</text></g>
<line x1="839.40" y1="1019.02" x2="843.00" y2="1019.02" stroke="#000" stroke-width="4"/>
<line x1="836.00" y1="974.25" x2="843.00" y2="974.25" stroke="#000" stroke-width="4"/>
<g transform="translate(831.00,982.55) scale(0.8654,1)"><text id="t63" font-size="26.52" font-weight="bold" text-anchor="end" font-family="'Liberation Sans', sans-serif">0.35</text></g>
<line x1="839.40" y1="929.47" x2="843.00" y2="929.47" stroke="#000" stroke-width="4"/>
<line x1="836.00" y1="884.70" x2="843.00" y2="884.70" stroke="#000" stroke-width="4"/>
<g transform="translate(831.00,893.00) scale(0.8654,1)"><text id="t64" font-size="26.52" font-weight="bold" text-anchor="end" font-family="'Liberation Sans', sans-serif">0.40</text></g>
<line x1="839.40" y1="839.92" x2="843.00" y2="839.92" stroke="#000" stroke-width="4"/>
<line x1="836.00" y1="795.15" x2="843.00" y2="795.15" stroke="#000" stroke-width="4"/>
<g transform="translate(831.00,803.45) scale(0.8654,1)"><text id="t65" font-size="26.52" font-weight="bold" text-anchor="end" font-family="'Liberation Sans', sans-serif">0.45</text></g>
<line x1="839.40" y1="750.38" x2="843.00" y2="750.38" stroke="#000" stroke-width="4"/>
<line x1="836.00" y1="705.60" x2="843.00" y2="705.60" stroke="#000" stroke-width="4"/>
<g transform="translate(831.00,713.90) scale(0.8654,1)"><text id="t66" font-size="26.52" font-weight="bold" text-anchor="end" font-family="'Liberation Sans', sans-serif">0.50</text></g>
<line x1="839.40" y1="660.83" x2="843.00" y2="660.83" stroke="#000" stroke-width="4"/>
<line x1="843.00" y1="1063.80" x2="843.00" y2="1071.50" stroke="#000" stroke-width="4"/>
<g transform="translate(843.00,1098.00) scale(0.8654,1)"><text id="t67" font-size="26.52" font-weight="bold" text-anchor="middle" font-family="'Liberation Sans', sans-serif">0.35</text></g>
<line x1="886.90" y1="1063.80" x2="886.90" y2="1067.80" stroke="#000" stroke-width="4"/>
<line x1="930.80" y1="1063.80" x2="930.80" y2="1071.50" stroke="#000" stroke-width="4"/>
<g transform="translate(930.80,1098.00) scale(0.8654,1)"><text id="t68" font-size="26.52" font-weight="bold" text-anchor="middle" font-family="'Liberation Sans', sans-serif">0.40</text></g>
<line x1="974.70" y1="1063.80" x2="974.70" y2="1067.80" stroke="#000" stroke-width="4"/>
<line x1="1018.60" y1="1063.80" x2="1018.60" y2="1071.50" stroke="#000" stroke-width="4"/>
<g transform="translate(1018.60,1098.00) scale(0.8654,1)"><text id="t69" font-size="26.52" font-weight="bold" text-anchor="middle" font-family="'Liberation Sans', sans-serif">0.45</text></g>
<line x1="1062.50" y1="1063.80" x2="1062.50" y2="1067.80" stroke="#000" stroke-width="4"/>
<line x1="1106.40" y1="1063.80" x2="1106.40" y2="1071.50" stroke="#000" stroke-width="4"/>
<g transform="translate(1106.40,1098.00) scale(0.8654,1)"><text id="t70" font-size="26.52" font-weight="bold" text-anchor="middle" font-family="'Liberation Sans', sans-serif">0.50</text></g>
<line x1="1150.30" y1="1063.80" x2="1150.30" y2="1067.80" stroke="#000" stroke-width="4"/>
<line x1="1194.20" y1="1063.80" x2="1194.20" y2="1071.50" stroke="#000" stroke-width="4"/>
<g transform="translate(1194.20,1098.00) scale(0.8654,1)"><text id="t71" font-size="26.52" font-weight="bold" text-anchor="middle" font-family="'Liberation Sans', sans-serif">0.55</text></g>
<line x1="1238.10" y1="1063.80" x2="1238.10" y2="1067.80" stroke="#000" stroke-width="4"/>
<line x1="1282.00" y1="1063.80" x2="1282.00" y2="1071.50" stroke="#000" stroke-width="4"/>
<g transform="translate(1282.00,1098.00) scale(0.8654,1)"><text id="t72" font-size="26.52" font-weight="bold" text-anchor="middle" font-family="'Liberation Sans', sans-serif">0.60</text></g>
<g transform="translate(1062.10,1135.00) scale(0.8654,1)"><text id="t73" font-size="34.32" font-weight="bold" text-anchor="middle" font-family="'Liberation Sans', sans-serif">S</text></g>
<g transform="translate(776.30,967.70) rotate(-90) scale(0.9615,1)"><text id="t74" font-size="34.32" font-weight="bold" font-family="'Liberation Sans', sans-serif">G (GWm<tspan font-size="24.96" dy="-13.5">-2</tspan><tspan dy="13.5">K</tspan><tspan font-size="24.96" dy="-13.5">-1</tspan><tspan dy="13.5">)</tspan></text><rect x="193.34" y="-17.91" width="4.91" height="5.91" fill="#fff"/><rect x="201.63" y="-17.91" width="4.40" height="5.91" fill="#fff"/></g>
<g transform="translate(1109.60,1011.40) rotate(-38) scale(0.9615,1)"><text id="t75" font-size="37.44" font-weight="bold" fill="#0000FF" font-family="'Liberation Sans', sans-serif">R<tspan font-size="23.92" dy="-12">2</tspan><tspan dy="12"> = 0.91</tspan></text><rect x="136.31" y="-5.72" width="7.45" height="7.22" fill="#fff"/><rect x="148.89" y="-5.72" width="6.69" height="7.22" fill="#fff"/></g>
</svg>
</body></html>
